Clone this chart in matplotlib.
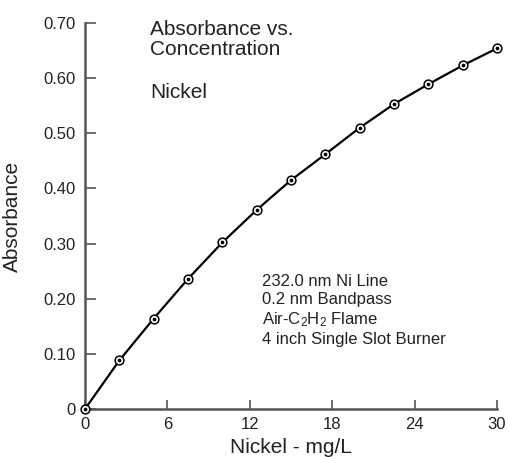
import matplotlib
matplotlib.use("Agg")
import matplotlib.pyplot as plt

plt.rcParams['font.family'] = ['Liberation Sans', 'DejaVu Sans']
plt.rcParams['mathtext.fontset'] = 'custom'
plt.rcParams['mathtext.rm'] = 'Liberation Sans'
plt.rcParams['mathtext.it'] = 'Liberation Sans'

# Data
concentration = [0, 2.5, 5, 7.5, 10, 12.5, 15, 17.5, 20, 22.5, 25, 27.5, 30]
absorbance = [0.0, 0.088, 0.164, 0.236, 0.302, 0.361, 0.415, 0.462, 0.510, 0.553, 0.589, 0.623, 0.654]
x_ticks = [0, 6, 12, 18, 24, 30]
x_tick_labels = ["0", "6", "12", "18", "24", "30"]
y_ticks = [0, 0.1, 0.2, 0.3, 0.4, 0.5, 0.6, 0.7]
y_tick_labels = ["0", "0.10", "0.20", "0.30", "0.40", "0.50", "0.60", "0.70"]
title_text = "Absorbance vs.\nConcentration"
element_text = "Nickel"
conditions = ["232.0 nm Ni Line", "0.2 nm Bandpass",
              r"Air-C$_\mathrm{2}$H$_\mathrm{2}$ Flame", "4 inch Single Slot Burner"]

fig = plt.figure(figsize=(5.09, 4.59), dpi=100)
ax = fig.add_axes([85/509, 1-409/459, 412/509, 386/459])

ax.plot(concentration, absorbance, color='black', lw=1.6, marker='o', ms=6.3,
        mfc='white', mec='black', mew=1.1, clip_on=False, zorder=3)
ax.plot(concentration, absorbance, ls='none', marker='o', ms=1.7,
        color='black', clip_on=False, zorder=4)

ax.set_xlim(0, 30)
ax.set_ylim(0, 0.70)
ax.set_xticks(x_ticks)
ax.set_xticklabels(x_tick_labels)
ax.set_yticks(y_ticks)
ax.set_yticklabels(y_tick_labels)

for s in ['top', 'right']:
    ax.spines[s].set_visible(False)
for s in ['left', 'bottom']:
    ax.spines[s].set_color('#555555')
    ax.spines[s].set_linewidth(1.8)

ax.tick_params(axis='both', direction='in', color='#555555', width=1.2,
               labelsize=12, labelcolor='#222222')
ax.tick_params(axis='y', length=8, pad=7)
ax.tick_params(axis='x', length=6.5, pad=6)

ax.set_xlabel("Nickel - mg/L", fontsize=15, color='#222222')
ax.set_ylabel("Absorbance", fontsize=15, color='#222222')
ax.xaxis.set_label_coords(0.5, -0.075)
ax.yaxis.set_label_coords(-0.153, 0.5)

ax.text(150/509, 1-20/459, title_text, transform=fig.transFigure, fontsize=15,
        va='top', ha='left', linespacing=1.05, color='#222222')
ax.text(150/509, 1-83/459, element_text, transform=fig.transFigure, fontsize=15,
        va='top', ha='left', color='#222222')
ax.text(262/509, 1-274/459, "\n".join(conditions), transform=fig.transFigure,
        fontsize=12, va='top', ha='left', linespacing=1.25, color='#222222')

fig.savefig("out.png", dpi=100)
